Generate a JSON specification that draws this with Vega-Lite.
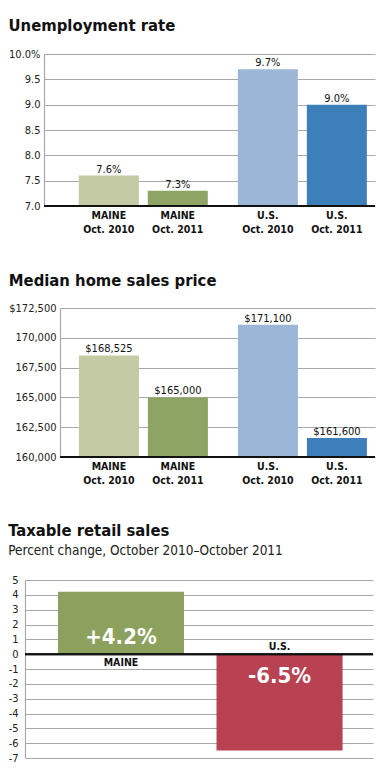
{
  "$schema": "https://vega.github.io/schema/vega-lite/v6.json",
  "padding": {"left": 7, "top": 17, "right": 0, "bottom": 0},
  "background": "white",
  "spacing": 36,
  "resolve": {"scale": {"color": "independent"}},
  "config": {
    "font": "DejaVu Sans Condensed",
    "view": {"stroke": null},
    "title": {"anchor": "start", "font": "DejaVu Sans Condensed", "fontSize": 16.5, "fontWeight": "bold", "color": "#111", "offset": 14,
      "subtitleFont": "DejaVu Sans Condensed", "subtitleFontSize": 13.5, "subtitleColor": "#222", "subtitlePadding": 4},
    "axisY": {"grid": true, "gridColor": "#a8a8a8", "gridWidth": 1.2, "domain": true, "domainColor": "#a8a8a8", "domainWidth": 1.2, "ticks": false,
      "labelFont": "DejaVu Sans Condensed", "labelFontSize": 11, "labelColor": "#222", "labelPadding": 4, "labelOverlap": false, "title": null},
    "text": {"font": "DejaVu Sans Condensed", "color": "#111"}
  },
  "vconcat": [
    {"spacing": 0, "hconcat": [
    {"width": 1, "height": 1, "data": {"values": []}, "mark": {"type": "point", "opacity": 0}},
    {
      "title": "Unemployment rate",
      "width": 331, "height": 152,
      "data": {"values": [
        {"region": "MAINE", "year": "Oct. 2010", "series": "MAINE 2010", "value": 7.6, "vlabel": "7.6%", "xlabel": "MAINE\nOct. 2010"},
        {"region": "MAINE", "year": "Oct. 2011", "series": "MAINE 2011", "value": 7.3, "vlabel": "7.3%", "xlabel": "MAINE\nOct. 2011"},
        {"region": "U.S.", "year": "Oct. 2010", "series": "U.S. 2010", "value": 9.7, "vlabel": "9.7%", "xlabel": "U.S.\nOct. 2010"},
        {"region": "U.S.", "year": "Oct. 2011", "series": "U.S. 2011", "value": 9.0, "vlabel": "9.0%", "xlabel": "U.S.\nOct. 2011"}
      ]},
      "layer": [
        {
          "mark": {"type": "bar"},
          "encoding": {
            "x": {"field": "region", "type": "nominal", "scale": {"paddingInner": 0.189, "paddingOuter": 0.135, "align": 0.81}, "axis": null},
            "xOffset": {"field": "year", "type": "nominal", "scale": {"paddingInner": 0.13, "paddingOuter": 0}},
            "y": {"field": "value", "type": "quantitative", "scale": {"domain": [7, 10], "nice": false, "zero": false},
              "axis": {"values": [7, 7.5, 8, 8.5, 9, 9.5, 10], "labelExpr": "datum.value == 10 ? '10.0%' : format(datum.value, '.1f')"}},
            "y2": {"datum": 7},
            "color": {"field": "series", "type": "nominal", "legend": null,
              "scale": {"domain": ["MAINE 2010", "MAINE 2011", "U.S. 2010", "U.S. 2011"], "range": ["#c3caa4", "#8ea465", "#9bb6d7", "#3d7fb9"]}}
          }
        },
        {
          "mark": {"type": "text", "baseline": "bottom", "dy": -1, "fontSize": 11},
          "encoding": {
            "x": {"field": "region", "type": "nominal"},
            "xOffset": {"field": "year", "type": "nominal"},
            "y": {"field": "value", "type": "quantitative",
              "axis": {"values": [7, 7.5, 8, 8.5, 9, 9.5, 10], "labelExpr": "datum.value == 10 ? '10.0%' : format(datum.value, '.1f')"}},
            "text": {"field": "vlabel"}
          }
        },
        {
          "mark": {"type": "text", "baseline": "top", "dy": 5, "fontSize": 10.5, "fontWeight": "bold", "lineBreak": "\n", "lineHeight": 14},
          "encoding": {
            "x": {"field": "region", "type": "nominal"},
            "xOffset": {"field": "year", "type": "nominal"},
            "y": {"datum": 7, "type": "quantitative",
              "axis": {"values": [7, 7.5, 8, 8.5, 9, 9.5, 10], "labelExpr": "datum.value == 10 ? '10.0%' : format(datum.value, '.1f')"}},
            "text": {"field": "xlabel"}
          }
        },
        {
          "mark": {"type": "rule", "color": "#111", "strokeWidth": 2},
          "encoding": {"y": {"datum": 7, "type": "quantitative",
              "axis": {"values": [7, 7.5, 8, 8.5, 9, 9.5, 10], "labelExpr": "datum.value == 10 ? '10.0%' : format(datum.value, '.1f')"}}}
        }
      ]
    }]},
    {"spacing": 0, "hconcat": [
    {"width": 1, "height": 1, "data": {"values": []}, "mark": {"type": "point", "opacity": 0}},
    {
      "title": {"text": "Median home sales price", "offset": 13},
      "width": 315, "height": 149,
      "data": {"values": [
        {"region": "MAINE", "year": "Oct. 2010", "series": "MAINE 2010", "value": 168525, "vlabel": "$168,525", "xlabel": "MAINE\nOct. 2010"},
        {"region": "MAINE", "year": "Oct. 2011", "series": "MAINE 2011", "value": 165000, "vlabel": "$165,000", "xlabel": "MAINE\nOct. 2011"},
        {"region": "U.S.", "year": "Oct. 2010", "series": "U.S. 2010", "value": 171100, "vlabel": "$171,100", "xlabel": "U.S.\nOct. 2010"},
        {"region": "U.S.", "year": "Oct. 2011", "series": "U.S. 2011", "value": 161600, "vlabel": "$161,600", "xlabel": "U.S.\nOct. 2011"}
      ]},
      "layer": [
        {
          "mark": {"type": "bar"},
          "encoding": {
            "x": {"field": "region", "type": "nominal", "scale": {"paddingInner": 0.189, "paddingOuter": 0.085, "align": 0.7}, "axis": null},
            "xOffset": {"field": "year", "type": "nominal", "scale": {"paddingInner": 0.13, "paddingOuter": 0}},
            "y": {"field": "value", "type": "quantitative", "scale": {"domain": [160000, 172500], "nice": false, "zero": false},
              "axis": {"values": [160000, 162500, 165000, 167500, 170000, 172500], "labelExpr": "datum.value == 172500 ? '$172,500' : format(datum.value, ',')"}},
            "y2": {"datum": 160000},
            "color": {"field": "series", "type": "nominal", "legend": null,
              "scale": {"domain": ["MAINE 2010", "MAINE 2011", "U.S. 2010", "U.S. 2011"], "range": ["#c3caa4", "#8ea465", "#9bb6d7", "#3d7fb9"]}}
          }
        },
        {
          "mark": {"type": "text", "baseline": "bottom", "dy": -1, "fontSize": 11},
          "encoding": {
            "x": {"field": "region", "type": "nominal"},
            "xOffset": {"field": "year", "type": "nominal"},
            "y": {"field": "value", "type": "quantitative",
              "axis": {"values": [160000, 162500, 165000, 167500, 170000, 172500], "labelExpr": "datum.value == 172500 ? '$172,500' : format(datum.value, ',')"}},
            "text": {"field": "vlabel"}
          }
        },
        {
          "mark": {"type": "text", "baseline": "top", "dy": 5, "fontSize": 10.5, "fontWeight": "bold", "lineBreak": "\n", "lineHeight": 14},
          "encoding": {
            "x": {"field": "region", "type": "nominal"},
            "xOffset": {"field": "year", "type": "nominal"},
            "y": {"datum": 160000, "type": "quantitative",
              "axis": {"values": [160000, 162500, 165000, 167500, 170000, 172500], "labelExpr": "datum.value == 172500 ? '$172,500' : format(datum.value, ',')"}},
            "text": {"field": "xlabel"}
          }
        },
        {
          "mark": {"type": "rule", "color": "#111", "strokeWidth": 2},
          "encoding": {"y": {"datum": 160000, "type": "quantitative",
              "axis": {"values": [160000, 162500, 165000, 167500, 170000, 172500], "labelExpr": "datum.value == 172500 ? '$172,500' : format(datum.value, ',')"}}}
        }
      ]
    }]},
    {"spacing": 0, "hconcat": [
    {"width": 1, "height": 1, "data": {"values": []}, "mark": {"type": "point", "opacity": 0}},
    {
      "title": {"text": "Taxable retail sales", "subtitle": "Percent change, October 2010–October 2011", "offset": 17},
      "width": 348, "height": 178,
      "data": {"values": [
        {"region": "MAINE", "value": 4.2, "vlabel": "+4.2%"},
        {"region": "U.S.", "value": -6.5, "vlabel": "-6.5%"}
      ]},
      "layer": [
        {
          "mark": {"type": "bar"},
          "encoding": {
            "x": {"field": "region", "type": "nominal", "scale": {"paddingInner": 0.205, "paddingOuter": 0.2, "align": 0.52}, "axis": null},
            "y": {"field": "value", "type": "quantitative", "scale": {"domain": [-7, 5], "nice": false},
              "axis": {"values": [-7, -6, -5, -4, -3, -2, -1, 0, 1, 2, 3, 4, 5], "labelExpr": "datum.value < 0 ? '-' + format(-datum.value, 'd') : format(datum.value, 'd')", "labelPadding": 7}},
            "color": {"field": "region", "type": "nominal", "legend": null,
              "scale": {"domain": ["MAINE", "U.S."], "range": ["#8da15f", "#b84152"]}}
          }
        },
        {
          "transform": [{"filter": "datum.value > 0"}],
          "mark": {"type": "text", "baseline": "alphabetic", "dy": -10, "fontSize": 22, "fontWeight": "bold", "color": "white"},
          "encoding": {"x": {"field": "region", "type": "nominal"},
            "y": {"datum": 0, "type": "quantitative", "axis": {"values": [-7, -6, -5, -4, -3, -2, -1, 0, 1, 2, 3, 4, 5], "labelExpr": "datum.value < 0 ? '-' + format(-datum.value, 'd') : format(datum.value, 'd')", "labelPadding": 7}},
            "text": {"field": "vlabel"}}
        },
        {
          "transform": [{"filter": "datum.value < 0"}],
          "mark": {"type": "text", "baseline": "top", "dy": 12, "fontSize": 22, "fontWeight": "bold", "color": "white"},
          "encoding": {"x": {"field": "region", "type": "nominal"},
            "y": {"datum": 0, "type": "quantitative", "axis": {"values": [-7, -6, -5, -4, -3, -2, -1, 0, 1, 2, 3, 4, 5], "labelExpr": "datum.value < 0 ? '-' + format(-datum.value, 'd') : format(datum.value, 'd')", "labelPadding": 7}},
            "text": {"field": "vlabel"}}
        },
        {
          "transform": [{"filter": "datum.value > 0"}],
          "mark": {"type": "text", "baseline": "top", "dy": 4, "fontSize": 10.5, "fontWeight": "bold"},
          "encoding": {"x": {"field": "region", "type": "nominal"},
            "y": {"datum": 0, "type": "quantitative", "axis": {"values": [-7, -6, -5, -4, -3, -2, -1, 0, 1, 2, 3, 4, 5], "labelExpr": "datum.value < 0 ? '-' + format(-datum.value, 'd') : format(datum.value, 'd')", "labelPadding": 7}},
            "text": {"field": "region"}}
        },
        {
          "transform": [{"filter": "datum.value < 0"}],
          "mark": {"type": "text", "baseline": "bottom", "dy": -2, "fontSize": 10.5, "fontWeight": "bold"},
          "encoding": {"x": {"field": "region", "type": "nominal"},
            "y": {"datum": 0, "type": "quantitative", "axis": {"values": [-7, -6, -5, -4, -3, -2, -1, 0, 1, 2, 3, 4, 5], "labelExpr": "datum.value < 0 ? '-' + format(-datum.value, 'd') : format(datum.value, 'd')", "labelPadding": 7}},
            "text": {"field": "region"}}
        },
        {
          "mark": {"type": "rule", "color": "#111", "strokeWidth": 2},
          "encoding": {"y": {"datum": 0, "type": "quantitative", "axis": {"values": [-7, -6, -5, -4, -3, -2, -1, 0, 1, 2, 3, 4, 5], "labelExpr": "datum.value < 0 ? '-' + format(-datum.value, 'd') : format(datum.value, 'd')", "labelPadding": 7}}}
        }
      ]
    }]}
  ]
}
